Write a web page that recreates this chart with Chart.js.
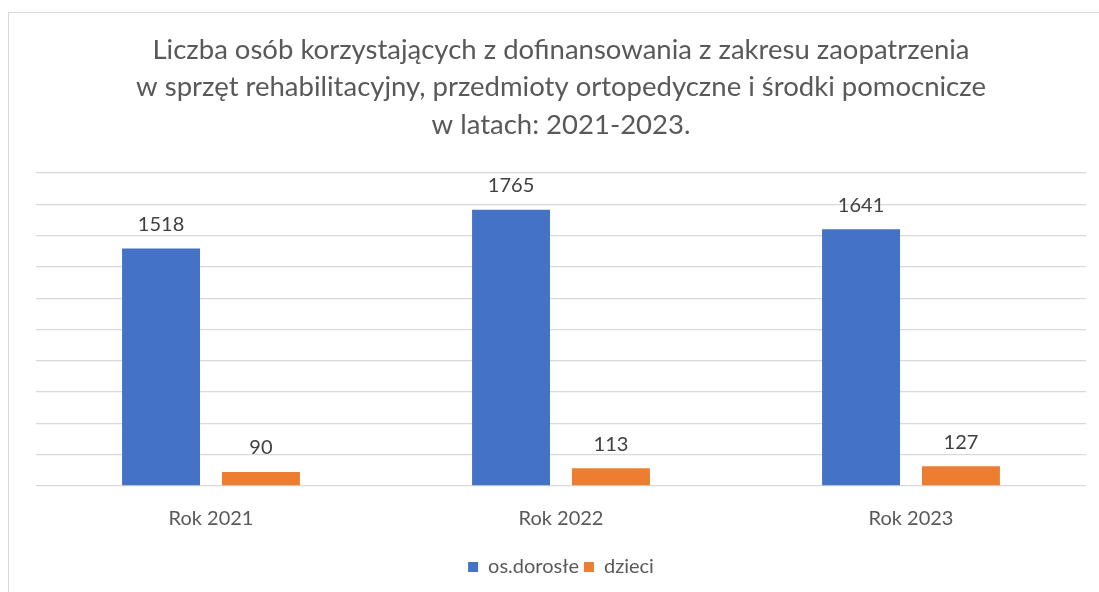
<!DOCTYPE html>
<html>
<head>
<meta charset="utf-8">
<script src="https://cdn.jsdelivr.net/npm/chart.js@4.4.0/dist/chart.umd.min.js"></script>
<style>
  html, body { margin: 0; padding: 0; background: #fff; }
  .frame {
    position: absolute;
    left: 8px;
    top: 12px;
    width: 1200px;
    height: 700px;
    border: 1px solid #d9d9d9;
  }
  canvas { position: absolute; left: 0; top: 0; }
</style>
</head>
<body>
<div class="frame"></div>
<canvas id="chart" width="1099" height="592"></canvas>
<script>
const titleLines = [
  "Liczba osób korzystających z dofinansowania z zakresu zaopatrzenia",
  "w sprzęt rehabilitacyjny, przedmioty ortopedyczne i środki pomocnicze",
  "w latach: 2021-2023.",
];
const years = ["Rok 2021", "Rok 2022", "Rok 2023"];
const adults = [1518, 1765, 1641];
const children = [90, 113, 127];

const FONT = "Lato, Carlito, Calibri, sans-serif";

// etykiety wartości nad słupkami
const valueLabels = {
  id: "valueLabels",
  afterDatasetsDraw(chart) {
    const ctx = chart.ctx;
    ctx.save();
    ctx.font = "20px " + FONT;
    ctx.fillStyle = "#404040";
    ctx.textAlign = "center";
    ctx.textBaseline = "middle";
    chart.data.datasets.forEach((ds, i) => {
      chart.getDatasetMeta(i).data.forEach((bar, k) => {
        ctx.fillText(String(ds.data[k]), bar.x, bar.y - 24);
      });
    });
    ctx.restore();
  },
};

new Chart(document.getElementById("chart"), {
  type: "bar",
  data: {
    labels: years,
    datasets: [
      {
        label: "os.dorosłe",
        data: adults,
        backgroundColor: "#4472C4",
      },
      {
        label: "dzieci",
        data: children,
        backgroundColor: "#ED7D31",
      },
    ],
  },
  options: {
    responsive: false,
    animation: false,
    categoryPercentage: 0.571,
    barPercentage: 0.78,
    layout: {
      padding: { left: 36, right: 13, top: 0, bottom: 5 },
    },
    plugins: {
      title: {
        display: true,
        text: titleLines,
        color: "#595959",
        font: { family: FONT, size: 27.5, weight: "normal", lineHeight: 1.364 },
        padding: { top: 31, bottom: 29.5 },
      },
      legend: {
        position: "bottom",
        labels: {
          boxWidth: 10,
          boxHeight: 10,
          padding: 5,
          color: "#595959",
          font: { family: FONT, size: 20 },
        },
      },
      tooltip: { enabled: false },
    },
    scales: {
      x: {
        grid: { display: false, drawTicks: false, tickLength: 0 },
        border: { display: false },
        ticks: {
          color: "#595959",
          padding: 21,
          font: { family: FONT, size: 20 },
        },
      },
      y: {
        display: true,
        min: 0,
        max: 2000,
        ticks: { display: false, stepSize: 200 },
        grid: { color: "#d9d9d9", lineWidth: 1.3, drawTicks: false },
        border: { display: false },
      },
    },
  },
  plugins: [valueLabels],
});
</script>
</body>
</html>
